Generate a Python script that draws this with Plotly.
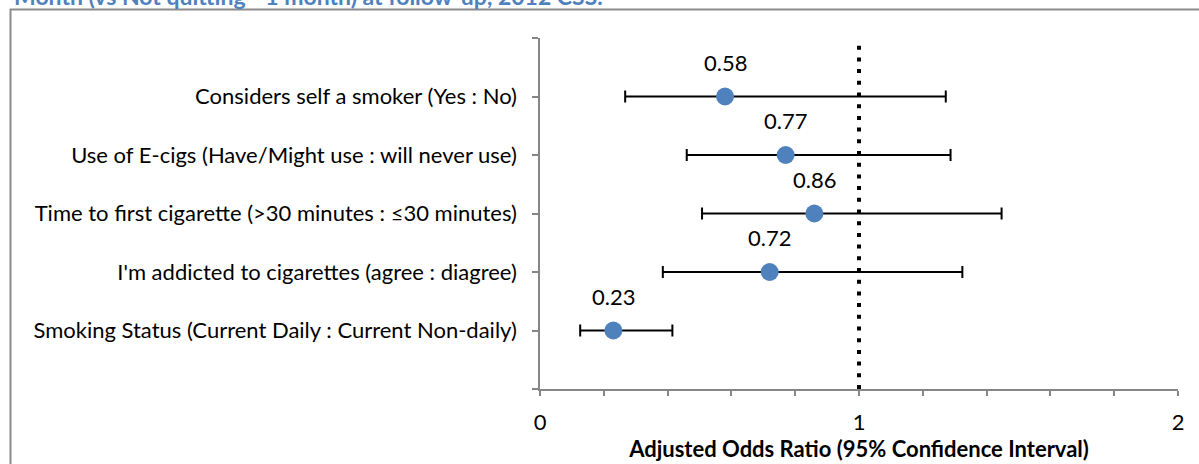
import plotly.graph_objects as go

# Predictors (bottom to top on the y axis)
labels = [
    "Smoking Status (Current Daily : Current Non-daily)",
    "I'm addicted to cigarettes (agree : diagree)",
    "Time to first cigarette (>30 minutes : \u226430 minutes)",
    "Use of E-cigs (Have/Might use : will never use)",
    "Considers self a smoker (Yes : No)",
]
positions = [1, 2, 3, 4, 5]
odds_ratio = [0.23, 0.72, 0.86, 0.77, 0.58]
ci_lower = [0.126, 0.385, 0.508, 0.460, 0.267]
ci_upper = [0.415, 1.324, 1.447, 1.287, 1.272]

x_ticks = [0, 1, 2]
x_tick_text = ["0", "1", "2"]

title_text = "Month (vs Not quitting - 1 month) at follow-up, 2012 CSS."
x_title = "Adjusted Odds Ratio (95% Confidence Interval)"

FONT = "Lato"
FS = 22
W, H = 1199, 464
ML, MR, MT, MB = 540, 21, 38, 75
pw = W - ML - MR
ph = H - MT - MB


def px_to_paper_x(px):
    return (px - ML) / pw


def px_to_paper_y(py):
    return (H - MB - py) / ph


fig = go.Figure()

fig.add_trace(go.Scatter(
    x=odds_ratio,
    y=positions,
    mode="markers",
    marker=dict(size=18, color="#4F81BD"),
    error_x=dict(
        type="data",
        symmetric=False,
        array=[u - o for u, o in zip(ci_upper, odds_ratio)],
        arrayminus=[o - l for o, l in zip(odds_ratio, ci_lower)],
        color="black",
        thickness=2,
        width=6,
    ),
    showlegend=False,
    hoverinfo="x+y",
))

# value labels above each estimate
for o, p in zip(odds_ratio, positions):
    fig.add_annotation(
        x=o, y=p, text=f"{o:.2f}", showarrow=False, yshift=34.5,
        font=dict(family=FONT, size=FS, color="black"),
    )

# reference line at OR = 1
fig.add_shape(
    type="line", xref="x", yref="paper", x0=1, x1=1, y0=0, y1=1,
    line=dict(color="black", width=4, dash="4px,7.7px"),
)

# chart frame
fig.add_shape(
    type="rect", xref="paper", yref="paper",
    x0=px_to_paper_x(10.5), x1=px_to_paper_x(1215),
    y0=px_to_paper_y(480), y1=px_to_paper_y(9.5),
    line=dict(color="#8C8C8C", width=2),
)

# heading (partly above the visible area)
fig.add_annotation(
    xref="paper", yref="paper",
    x=px_to_paper_x(12), y=px_to_paper_y(-4),
    xanchor="left", yanchor="middle",
    text=f"<b>{title_text}</b>", showarrow=False,
    font=dict(family=FONT, size=23, color="#4F81BD"),
)

fig.update_layout(
    width=W, height=H,
    margin=dict(l=ML, r=MR, t=MT, b=MB, autoexpand=False),
    paper_bgcolor="white",
    plot_bgcolor="white",
    font=dict(family=FONT, size=FS, color="black"),
    xaxis=dict(
        range=[0, 2],
        tickvals=x_ticks,
        ticktext=x_tick_text,
        ticks="outside", ticklen=5, tickcolor="#868686", tickwidth=1.5,
        minor=dict(dtick=0.2, ticks="outside", ticklen=5, tickcolor="#868686", tickwidth=1.5),
        showline=True, linecolor="#868686", linewidth=1.5,
        showgrid=False, zeroline=False,
        automargin=False,
        ticklabelstandoff=8,
        title=dict(text=f"<b>{x_title}</b>", standoff=6, font=dict(size=FS)),
    ),
    yaxis=dict(
        range=[0, 6],
        tickvals=[0] + positions + [6],
        ticktext=[""] + labels + [""],
        ticks="outside", ticklen=6, tickcolor="#868686", tickwidth=1.5,
        showline=True, linecolor="#868686", linewidth=1.5,
        showgrid=False, zeroline=False,
        automargin=False,
        ticklabelstandoff=11,
    ),
)

fig.write_html("out.html")
